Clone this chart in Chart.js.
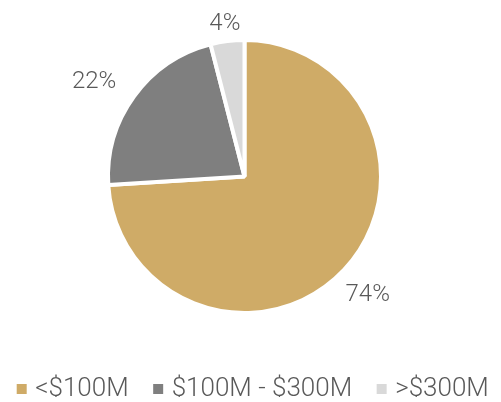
<!DOCTYPE html>
<html>
<head>
<meta charset="utf-8">
<script src="https://cdn.jsdelivr.net/npm/chart.js@4/dist/chart.umd.min.js"></script>
<style>
  html, body { margin: 0; padding: 0; background: #ffffff; }
  #wrap { width: 501px; height: 402px; }
</style>
</head>
<body>
<div id="wrap"><canvas id="c" width="501" height="402"></canvas></div>
<script>
const categories = ['<$100M', '$100M - $300M', '>$300M'];
const shares = [74, 22, 4];
const sliceColors = ['#CFAB67', '#7F7F7F', '#D9D9D9'];

const TEXT_COLOR = '#595959';
const FONT_FAMILY = 'Roboto, "Noto Sans", sans-serif';

// Draw percentage labels outside each slice
const outsideLabels = {
  id: 'outsideLabels',
  afterDatasetsDraw(chart, args, opts) {
    const ctx = chart.ctx;
    const meta = chart.getDatasetMeta(0);
    const data = chart.data.datasets[0].data;
    ctx.save();
    ctx.font = opts.weight + ' ' + opts.size + 'px ' + FONT_FAMILY;
    ctx.fillStyle = opts.color;
    ctx.textAlign = 'center';
    ctx.textBaseline = 'alphabetic';
    const capH = opts.size * 0.711;
    meta.data.forEach((arc, i) => {
      const p = arc.getProps(['x', 'y', 'startAngle', 'endAngle', 'outerRadius'], true);
      const mid = (p.startAngle + p.endAngle) / 2 + opts.angleShift[i] * Math.PI / 180;
      const dx = Math.cos(mid), dy = Math.sin(mid);
      const txt = data[i] + '%';
      const hw = ctx.measureText(txt).width / 2;
      const hh = capH / 2;
      const d = p.outerRadius + opts.gaps[i] + hw * Math.abs(dx) + hh * Math.abs(dy);
      const cx = p.x + dx * d, cy = p.y + dy * d;
      ctx.fillText(txt, cx, cy + hh);
    });
    ctx.restore();
  }
};

// Place the legend row where the reference has it
const legendPlacement = {
  id: 'legendPlacement',
  afterLayout(chart, args, opts) {
    const lg = chart.legend;
    if (!lg) return;
    lg.left = opts.left;
    lg.right = opts.right;
    lg.width = lg.right - lg.left;
  }
};

new Chart(document.getElementById('c'), {
  type: 'pie',
  data: {
    labels: categories,
    datasets: [{
      data: shares,
      backgroundColor: sliceColors,
      borderColor: '#ffffff',
      borderWidth: 4,
      hoverOffset: 0
    }]
  },
  plugins: [outsideLabels, legendPlacement],
  options: {
    responsive: false,
    animation: false,
    radius: 136.5,
    layout: { padding: { left: 0, right: 12, top: 6, bottom: 5 } },
    events: [],
    plugins: {
      tooltip: { enabled: false },
      outsideLabels: { size: 24, weight: 300, color: TEXT_COLOR, gaps: [10.5, 19.2, 9.5], angleShift: [0, -3.2, 0] },
      legendPlacement: { left: -7.8, right: 560 },
      legend: {
        display: true,
        position: 'bottom',
        align: 'start',
        maxHeight: 50,
        labels: {
          usePointStyle: true,
          pointStyle: 'rect',
          boxWidth: 1,
          boxHeight: 10,
          padding: 29,
          color: TEXT_COLOR,
          font: { family: FONT_FAMILY, size: 26, weight: 300 },
          generateLabels: (chart) => categories.map((c, i) => ({
            text: c,
            fillStyle: sliceColors[i],
            strokeStyle: sliceColors[i],
            lineWidth: 0,
            pointStyle: 'rect',
            fontColor: TEXT_COLOR,
            hidden: false,
            index: i
          }))
        }
      }
    }
  }
});
</script>
</body>
</html>
